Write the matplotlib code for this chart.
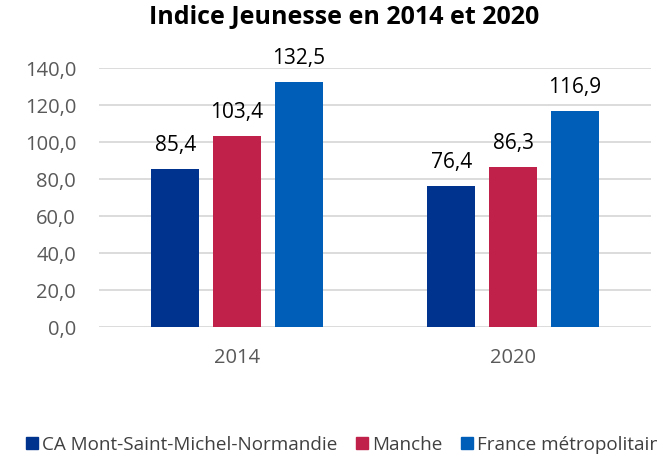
import numpy as np
import matplotlib.pyplot as plt
from matplotlib.patches import Patch

plt.rcParams['font.family'] = ['Open Sans', 'DejaVu Sans']

annees = ['2014', '2020']
series = ['CA Mont-Saint-Michel-Normandie', 'Manche', 'France métropolitaine']
ca_msmn = [85.4, 76.4]
manche = [103.4, 86.3]
france = [132.5, 116.9]
couleurs = ['#00338D', '#C0214B', '#005EB8']

fig = plt.figure(figsize=(6.57, 4.54), dpi=100)
ax = fig.add_axes([0.1507, 0.2797, 0.8402, 0.5705])

x = np.arange(len(annees))
w = 0.174
off = 0.223
for i, (vals, c) in enumerate(zip([ca_msmn, manche, france], couleurs)):
    bars = ax.bar(x + (i - 1) * off, vals, w, color=c, zorder=3)
    for b, v in zip(bars, vals):
        ax.text(b.get_x() + b.get_width() / 2, v + 9.7, f'{v:.1f}'.replace('.', ','),
                ha='center', va='baseline', fontsize=15, color='#000000')

ax.set_xlim(-0.5, 1.5)
ax.set_ylim(0, 140)
ax.set_yticks(np.arange(0, 141, 20))
ax.set_yticklabels([f'{v:.1f}'.replace('.', ',') for v in np.arange(0, 141, 20)])
ax.set_xticks(x)
ax.set_xticklabels(annees)
ax.tick_params(axis='both', length=0, labelsize=14.5, labelcolor='#595959')
ax.tick_params(axis='y', pad=16.5)
ax.tick_params(axis='x', pad=15)
ax.grid(axis='y', color='#D9D9D9', linewidth=1.3, zorder=0)
for s in ax.spines.values():
    s.set_visible(False)

fig.text(0.524, 0.962, 'Indice Jeunesse en 2014 et 2020', ha='center', va='center',
         fontsize=18, fontweight='bold')

# légende : une entrée par position (espacement irrégulier comme l'original)
pos_leg = [26, 356, 461]
for nom, c, px in zip(series, couleurs, pos_leg):
    fig.legend([Patch(color=c)], [nom], loc='center left',
               bbox_to_anchor=(px / 657, 0.02), frameon=False, fontsize=13.6,
               handlelength=0.63, handleheight=0.63, handletextpad=0.2,
               borderpad=0, borderaxespad=0, labelcolor='#404040')

fig.savefig('out.png', dpi=100)
